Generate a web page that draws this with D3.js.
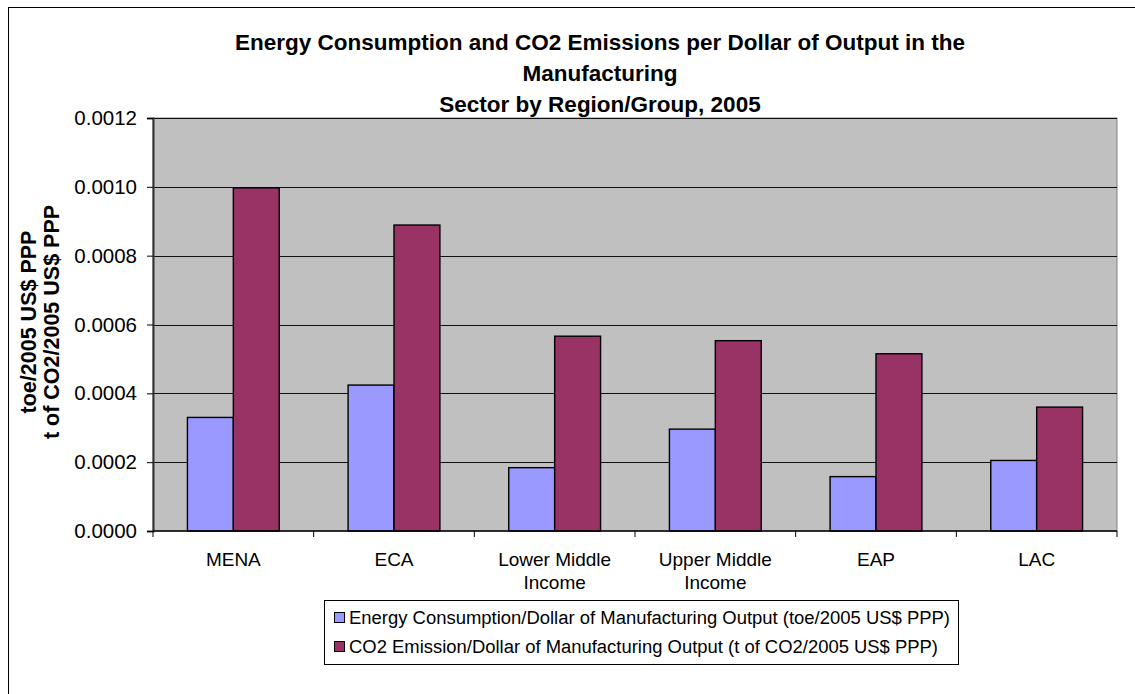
<!DOCTYPE html>
<html>
<head>
<meta charset="utf-8">
<script src="https://cdn.jsdelivr.net/npm/d3@7"></script>
<style>
  body { margin: 0; background: #fff; }
  text { font-family: Arial, "Liberation Sans", sans-serif; }
</style>
</head>
<body>
<div id="chart"></div>
<script>
'use strict';
// chart data
var categories = ['MENA', 'ECA', 'Lower Middle Income', 'Upper Middle Income', 'EAP', 'LAC'];
var categoryLines = [['MENA'], ['ECA'], ['Lower Middle', 'Income'], ['Upper Middle', 'Income'], ['EAP'], ['LAC']];
var seriesNames = [
  'Energy Consumption/Dollar of Manufacturing Output (toe/2005 US$ PPP)',
  'CO2 Emission/Dollar of Manufacturing Output (t of CO2/2005 US$ PPP)'
];
var energyValues = [0.00033, 0.000424, 0.000184, 0.000296, 0.000158, 0.000205];
var co2Values = [0.000997, 0.000889, 0.000566, 0.000553, 0.000515, 0.00036];
var yTicks = [0, 0.0002, 0.0004, 0.0006, 0.0008, 0.0010, 0.0012];
var titleLines = [
  'Energy Consumption and CO2 Emissions per Dollar of Output in the',
  'Manufacturing',
  'Sector by Region/Group, 2005'
];
var yTitleLines = ['toe/2005 US$ PPP', 't of CO2/2005 US$ PPP'];
var colors = ['#9999FF', '#993366'];

var width = 1135, height = 694;
var plot = { left: 153, top: 118, right: 1117, bottom: 531 };

var svg = d3.select('#chart').append('svg')
  .attr('width', width)
  .attr('height', height);

// outer chart border
svg.append('rect')
  .attr('x', 8.5).attr('y', 7.5)
  .attr('width', 1140).attr('height', 700)
  .attr('fill', '#fff')
  .attr('stroke', '#000');

var x0 = d3.scaleBand()
  .domain(categories)
  .range([plot.left, plot.right])
  .paddingInner(0)
  .paddingOuter(0);

// two bars per group, gap width 150% like the original
var groupPad = 0.75 / 3.5;
var x1 = d3.scaleBand()
  .domain([0, 1])
  .range([x0.bandwidth() * groupPad, x0.bandwidth() * (1 - groupPad)]);

var y = d3.scaleLinear()
  .domain([0, 0.0012])
  .range([plot.bottom, plot.top]);

// plot background
svg.append('rect')
  .attr('x', plot.left).attr('y', plot.top)
  .attr('width', plot.right - plot.left)
  .attr('height', plot.bottom - plot.top)
  .attr('fill', '#C0C0C0')
  .attr('stroke', '#808080');

// gridlines
svg.append('g')
  .selectAll('line')
  .data(yTicks.filter(function (d) { return d > 0; }))
  .enter()
  .append('line')
  .attr('x1', plot.left)
  .attr('x2', plot.right)
  .attr('y1', function (d) { return Math.round(y(d)) + 0.5; })
  .attr('y2', function (d) { return Math.round(y(d)) + 0.5; })
  .attr('stroke', '#111')
  .attr('stroke-width', 1);

// bars
var groups = svg.append('g')
  .selectAll('g')
  .data(categories)
  .enter()
  .append('g')
  .attr('transform', function (d) { return 'translate(' + x0(d) + ',0)'; });

groups.selectAll('rect')
  .data(function (d, i) { return [energyValues[i], co2Values[i]]; })
  .enter()
  .append('rect')
  .attr('x', function (d, j) { return x1(j); })
  .attr('y', function (d) { return y(d); })
  .attr('width', x1.bandwidth())
  .attr('height', function (d) { return y(0) - y(d); })
  .attr('fill', function (d, j) { return colors[j]; })
  .attr('stroke', '#000')
  .attr('stroke-width', 1.4);

// y axis
var yAxis = svg.append('g')
  .attr('transform', 'translate(' + plot.left + ',0)')
  .call(d3.axisLeft(y).tickValues(yTicks).tickFormat(d3.format('.4f')).tickSize(6).tickPadding(10));
yAxis.select('.domain').attr('stroke', '#333').attr('stroke-width', 2);
yAxis.selectAll('.tick line').attr('stroke', '#000');
yAxis.selectAll('.tick text')
  .attr('font-size', 20.5)
  .attr('fill', '#000')
  .style('font-family', 'Arial, "Liberation Sans", sans-serif');

// x axis
var xAxis = svg.append('g')
  .attr('transform', 'translate(0,' + plot.bottom + ')');
xAxis.append('line')
  .attr('x1', plot.left).attr('x2', plot.right)
  .attr('y1', 0).attr('y2', 0)
  .attr('stroke', '#000').attr('stroke-width', 1.5);
xAxis.selectAll('line.tick')
  .data(categories.concat(['end']))
  .enter()
  .append('line')
  .attr('class', 'tick')
  .attr('x1', function (d, i) { return i < categories.length ? x0(d) : plot.right; })
  .attr('x2', function (d, i) { return i < categories.length ? x0(d) : plot.right; })
  .attr('y1', 0).attr('y2', 6)
  .attr('stroke', '#000');

var xLabels = xAxis.selectAll('text.cat')
  .data(categories)
  .enter()
  .append('text')
  .attr('class', 'cat')
  .attr('x', function (d) { return x0(d) + x0.bandwidth() / 2; })
  .attr('y', 35)
  .attr('text-anchor', 'middle')
  .attr('font-size', 19)
  .attr('fill', '#000');
xLabels.selectAll('tspan')
  .data(function (d, i) { return categoryLines[i]; })
  .enter()
  .append('tspan')
  .attr('x', function () { return d3.select(this.parentNode).attr('x'); })
  .attr('dy', function (d, i) { return i === 0 ? 0 : 23; })
  .text(function (d) { return d; });

// title
svg.append('g')
  .selectAll('text')
  .data(titleLines)
  .enter()
  .append('text')
  .attr('x', 600)
  .attr('y', function (d, i) { return 50 + i * 31; })
  .attr('text-anchor', 'middle')
  .attr('font-size', 22.5)
  .attr('font-weight', 'bold')
  .attr('fill', '#000')
  .text(function (d) { return d; });

// y axis title
svg.append('g')
  .selectAll('text')
  .data(yTitleLines)
  .enter()
  .append('text')
  .attr('transform', function (d, i) { return 'translate(' + (36 + i * 23) + ',322) rotate(-90)'; })
  .attr('text-anchor', 'middle')
  .attr('font-size', 21.5)
  .attr('font-weight', 'bold')
  .attr('fill', '#000')
  .text(function (d) { return d; });

// legend
var legend = svg.append('g');
legend.append('rect')
  .attr('x', 324.5).attr('y', 600.5)
  .attr('width', 634).attr('height', 64)
  .attr('fill', '#fff')
  .attr('stroke', '#000');

var legendItems = legend.selectAll('g')
  .data(seriesNames)
  .enter()
  .append('g')
  .attr('transform', function (d, i) { return 'translate(334,' + (612 + i * 29) + ')'; });

legendItems.append('rect')
  .attr('x', 0.5).attr('y', 0.5)
  .attr('width', 10).attr('height', 10)
  .attr('fill', function (d, i) { return colors[i]; })
  .attr('stroke', '#000');

legendItems.append('text')
  .attr('x', 15)
  .attr('y', 12)
  .attr('font-size', 18)
  .attr('fill', '#000')
  .attr('textLength', function (d, i) { return i === 0 ? 601 : 589; })
  .attr('lengthAdjust', 'spacingAndGlyphs')
  .text(function (d) { return d; });
</script>
</body>
</html>
